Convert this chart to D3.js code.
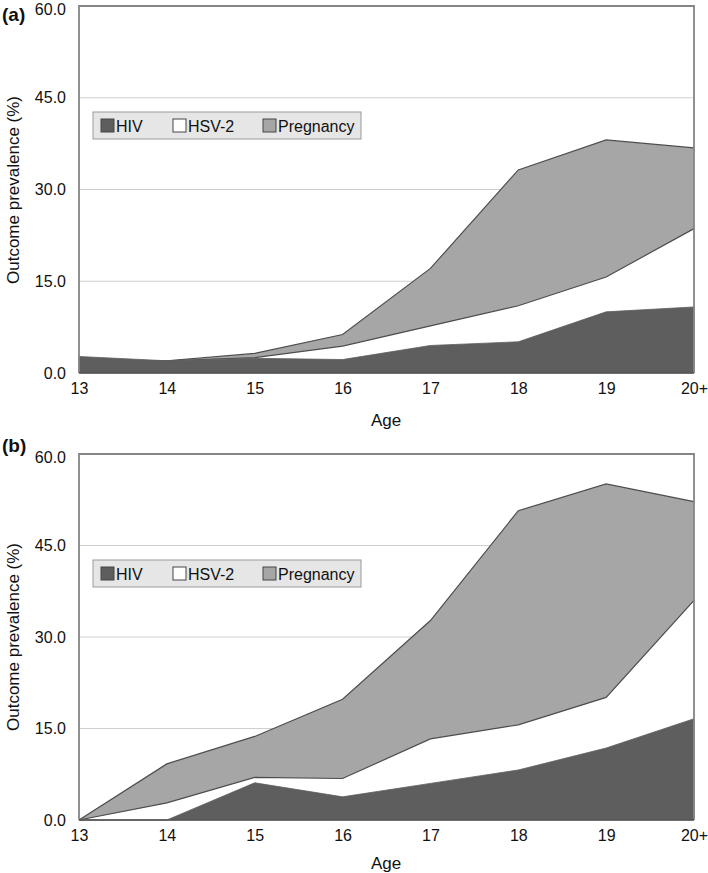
<!DOCTYPE html>
<html>
<head>
<meta charset="utf-8">
<script src="https://cdn.jsdelivr.net/npm/d3@7"></script>
<style>
  html, body { margin: 0; padding: 0; background: #fff; }
  svg { display: block; font-family: "Liberation Sans", Arial, Helvetica, sans-serif; }
</style>
</head>
<body>
<svg id="chart" width="708" height="873"></svg>
<script>
const ages = ["13", "14", "15", "16", "17", "18", "19", "20+"];
const yTicks = [0, 15, 30, 45, 60];
const seriesNames = ["HIV", "HSV-2", "Pregnancy"];
const seriesColors = ["#5e5e5e", "#ffffff", "#a6a6a6"];

// Panel (a)
const hivA = [2.7, 2.0, 2.4, 2.2, 4.5, 5.1, 10.0, 10.8];
const hsvA = [2.0, 2.0, 2.5, 4.4, 7.7, 11.0, 15.7, 23.6];
const pregA = [2.0, 2.0, 3.2, 6.3, 17.1, 33.2, 38.1, 36.8];

// Panel (b)
const hivB = [0.0, 0.0, 6.1, 3.8, 6.0, 8.2, 11.8, 16.6];
const hsvB = [0.0, 2.8, 7.0, 6.8, 13.3, 15.6, 20.1, 36.0];
const pregB = [0.0, 9.2, 13.7, 19.8, 32.7, 50.7, 55.1, 52.2];

const panels = [
  { label: "(a)", top: 6, bottom: 373, hiv: hivA, hsv: hsvA, preg: pregA, labelY: 21, legendY: 112, ageY: 426, ylabY: 190 },
  { label: "(b)", top: 454, bottom: 820, hiv: hivB, hsv: hsvB, preg: pregB, labelY: 452, legendY: 560, ageY: 869, ylabY: 637 }
];

const svg = d3.select("#chart");
const left = 79, right = 694;

const x = d3.scalePoint().domain(ages).range([left, right]);

panels.forEach(p => {
  const y = d3.scaleLinear().domain([0, 60]).range([p.bottom, p.top]);
  const g = svg.append("g");

  // gridlines
  g.selectAll("line.grid").data(yTicks.filter(t => t > 0 && t < 60)).join("line")
    .attr("x1", left).attr("x2", right)
    .attr("y1", d => y(d)).attr("y2", d => y(d))
    .attr("stroke", "#cfcfcf").attr("stroke-width", 1);

  const area = d3.area().x((d, i) => x(ages[i])).y0(y(0)).y1(d => y(d));
  const line = d3.line().x((d, i) => x(ages[i])).y(d => y(d));

  // pregnancy (back)
  g.append("path").datum(p.preg).attr("d", area).attr("fill", seriesColors[2]);
  g.append("path").datum(p.preg).attr("d", line).attr("fill", "none").attr("stroke", "#4d4d4d").attr("stroke-width", 1.2);
  // HSV-2
  g.append("path").datum(p.hsv).attr("d", area).attr("fill", seriesColors[1]);
  g.append("path").datum(p.hsv).attr("d", line).attr("fill", "none").attr("stroke", "#4d4d4d").attr("stroke-width", 1.2);
  // HIV (front)
  g.append("path").datum(p.hiv).attr("d", area).attr("fill", seriesColors[0]).attr("stroke", seriesColors[0]).attr("stroke-width", 0.8);

  // frame
  g.append("path")
    .attr("d", `M${left},${y(0)}V${y(60)}H${right}V${y(0)}`)
    .attr("fill", "none").attr("stroke", "#858585").attr("stroke-width", 1.8);
  g.append("line").attr("x1", left).attr("x2", right).attr("y1", y(0)).attr("y2", y(0))
    .attr("stroke", "#555").attr("stroke-width", 1.5);

  // y axis
  const yAxis = d3.axisLeft(y).tickValues(yTicks).tickFormat(d3.format(".1f")).tickSize(0).tickPadding(13);
  const ya = g.append("g").attr("transform", `translate(${left},0)`).call(yAxis);
  ya.select(".domain").remove();
  ya.selectAll("text").attr("font-size", 16).attr("fill", "#111").style("font-family", "'Liberation Sans', Arial, sans-serif");
  ya.selectAll(".tick").filter(d => d === 60).select("text").attr("y", 3);

  // x axis
  const xAxis = d3.axisBottom(x).tickSize(0).tickPadding(10);
  const xa = g.append("g").attr("transform", `translate(0,${y(0)})`).call(xAxis);
  xa.select(".domain").remove();
  xa.selectAll("text").attr("font-size", 16).attr("fill", "#111").style("font-family", "'Liberation Sans', Arial, sans-serif");

  // axis titles
  g.append("text").attr("x", 386).attr("y", p.ageY).attr("text-anchor", "middle")
    .attr("font-size", 17).attr("fill", "#111").text("Age");
  g.append("text").attr("transform", `translate(19,${p.ylabY}) rotate(-90)`).attr("text-anchor", "middle")
    .attr("font-size", 17).attr("fill", "#111").text("Outcome prevalence (%)");

  // panel label
  g.append("text").attr("x", 2).attr("y", p.labelY).attr("font-size", 19).attr("font-weight", "bold")
    .attr("fill", "#111").text(p.label);

  // legend
  const lg = g.append("g").attr("transform", `translate(93,${p.legendY})`);
  lg.append("rect").attr("width", 268).attr("height", 27).attr("fill", "#e6e6e6").attr("stroke", "#9a9a9a").attr("stroke-width", 1);
  const lx = [8, 80, 170];
  seriesNames.forEach((name, i) => {
    lg.append("rect").attr("x", lx[i]).attr("y", 7).attr("width", 13).attr("height", 13)
      .attr("fill", seriesColors[i]).attr("stroke", "#444").attr("stroke-width", 1);
    lg.append("text").attr("x", lx[i] + 15).attr("y", 19.5).attr("font-size", 16).attr("fill", "#111").text(name);
  });
});
</script>
</body>
</html>
